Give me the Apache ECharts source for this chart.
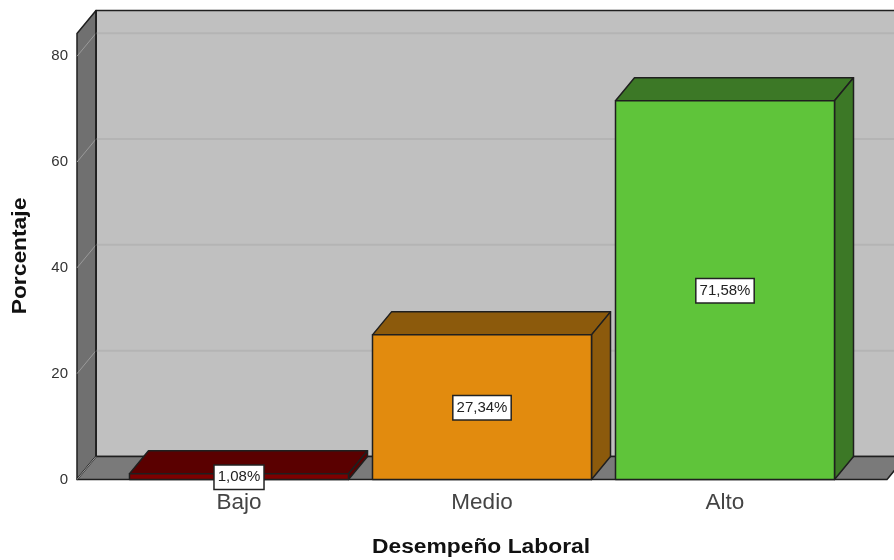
<!DOCTYPE html>
<html>
<head>
<meta charset="utf-8">
<style>html,body{margin:0;padding:0;background:#fff}#chart{width:894px;height:560px}</style>
<script src="https://cdn.jsdelivr.net/npm/echarts@6/dist/echarts.min.js"></script>
</head>
<body>
<div id="chart"></div>
<script>
// Distribución del desempeño laboral (%)
const categories = ['Bajo', 'Medio', 'Alto'];
const percentages = [1.08, 27.34, 71.58];
const yTicks = [0, 20, 40, 60, 80];
const frontColors = ['#7d0000', '#e28b0e', '#5fc43a'];
const shadeColors = ['#5a0000', '#8c5a0c', '#3c7826'];
const xTitle = 'Desempeño Laboral';
const yTitle = 'Porcentaje';

// Pseudo-3D projection of the plot box
const DEPTH_X = 19, DEPTH_Y = -23, WALL_PAD = 40.5, BAR_WIDTH = 219;
const EDGE = '#1f1f1f';
const TITLE_FONT = 'bold 19.5px "Liberation Sans", Arial, sans-serif';
const TITLE_STRETCH = 1.17;

function poly(points, fill, stroke, lineWidth) {
  return {
    type: 'polygon',
    shape: { points },
    style: { fill, stroke: stroke || 'none', lineWidth: lineWidth || 0, lineJoin: 'round' }
  };
}
function seg(a, b, color, lineWidth) {
  return {
    type: 'line',
    shape: { x1: a[0], y1: a[1], x2: b[0], y2: b[1] },
    style: { stroke: color, lineWidth }
  };
}

function renderFrame(params, api) {
  const box = params.coordSys;
  const left = box.x - WALL_PAD, right = box.x + box.width + WALL_PAD;
  const top = box.y, bottom = box.y + box.height;
  const children = [
    poly([[left + DEPTH_X, top + DEPTH_Y], [right + DEPTH_X, top + DEPTH_Y],
          [right + DEPTH_X, bottom + DEPTH_Y], [left + DEPTH_X, bottom + DEPTH_Y]], '#c0c0c0', EDGE, 1.5),
    poly([[left, top], [left + DEPTH_X, top + DEPTH_Y],
          [left + DEPTH_X, bottom + DEPTH_Y], [left, bottom]], '#707070', EDGE, 1.5),
    poly([[left, bottom], [left + DEPTH_X, bottom + DEPTH_Y],
          [right + DEPTH_X, bottom + DEPTH_Y], [right, bottom]], '#7a7a7a', EDGE, 1.5)
  ];
  yTicks.forEach(function (tick) {
    const y = api.coord([0, tick])[1];
    if (tick > 0) {
      children.push(seg([left + DEPTH_X, y + DEPTH_Y], [right + DEPTH_X, y + DEPTH_Y], '#b4b4b4', 2));
    }
    children.push(seg([left, y], [left + DEPTH_X, y + DEPTH_Y], '#9a9a9a', 1));
  });
  children.push(seg([left + DEPTH_X, top + DEPTH_Y], [left + DEPTH_X, bottom + DEPTH_Y], EDGE, 1.5));
  return { type: 'group', children };
}

function renderBar(params, api) {
  const i = api.value(0), value = api.value(1);
  const base = api.coord([i, 0]), head = api.coord([i, value]);
  const l = base[0] - BAR_WIDTH / 2, r = base[0] + BAR_WIDTH / 2;
  const b = base[1], t = head[1];
  return {
    type: 'group',
    children: [
      poly([[l, t], [l + DEPTH_X, t + DEPTH_Y], [r + DEPTH_X, t + DEPTH_Y], [r, t]], shadeColors[i], EDGE, 1.5),
      poly([[r, t], [r + DEPTH_X, t + DEPTH_Y], [r + DEPTH_X, b + DEPTH_Y], [r, b]], shadeColors[i], EDGE, 1.5),
      poly([[l, t], [r, t], [r, b], [l, b]], frontColors[i], EDGE, 1.5),
      {
        type: 'text',
        z2: 10,
        style: {
          x: base[0], y: (b + t) / 2 + 0.5,
          text: value.toFixed(2).replace('.', ',') + '%',
          align: 'center', verticalAlign: 'middle',
          font: '15px "Liberation Sans", Arial, sans-serif',
          fill: '#222',
          backgroundColor: '#fff',
          borderColor: '#222', borderWidth: 1.5,
          padding: [4, 3, 4, 3]
        }
      }
    ]
  };
}

const chart = echarts.init(document.getElementById('chart'), null, { renderer: 'canvas' });
chart.setOption({
  animation: false,
  backgroundColor: '#fff',
  grid: { left: 117.5, width: 729, top: 33.5, height: 446 },
  xAxis: {
    type: 'category',
    data: categories,
    axisLine: { show: false },
    axisTick: { show: false },
    axisLabel: { margin: 11.5, fontFamily: 'Liberation Sans', fontSize: 22.5, color: '#444' }
  },
  yAxis: {
    type: 'value',
    min: 0,
    max: 84.3,
    interval: 20,
    offset: WALL_PAD,
    axisLine: { show: false },
    axisTick: { show: false },
    splitLine: { show: false },
    axisLabel: { margin: 9, showMaxLabel: false, fontFamily: 'Liberation Sans', fontSize: 15, color: '#333' }
  },
  graphic: [
    {
      type: 'text', x: 481, y: 548, scaleX: TITLE_STRETCH,
      style: { text: xTitle, font: TITLE_FONT, fill: '#111', align: 'center', verticalAlign: 'middle' }
    },
    {
      type: 'text', x: 21, y: 256, rotation: Math.PI / 2, scaleX: TITLE_STRETCH,
      style: { text: yTitle, font: TITLE_FONT, fill: '#111', align: 'center', verticalAlign: 'middle' }
    }
  ],
  series: [
    { type: 'custom', silent: true, z: 1, clip: false, renderItem: renderFrame, data: [[0, 0]] },
    {
      type: 'custom', z: 2, clip: false, renderItem: renderBar,
      encode: { x: 0, y: 1 },
      data: percentages.map(function (v, i) { return [i, v]; })
    }
  ]
});
</script>
</body>
</html>
